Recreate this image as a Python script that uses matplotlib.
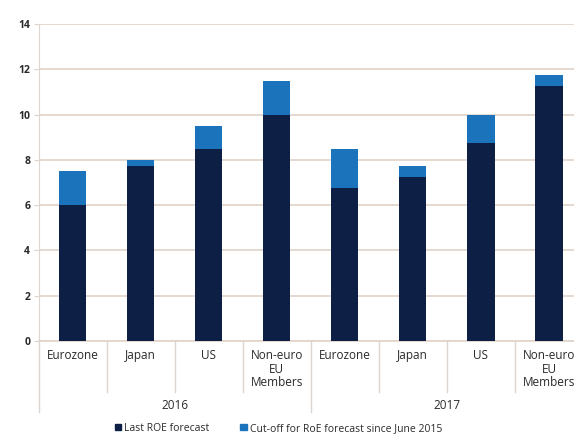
import matplotlib
matplotlib.use("Agg")
import matplotlib.pyplot as plt
import matplotlib.transforms as mtransforms
from matplotlib.patches import Patch

plt.rcParams['font.family'] = ['Open Sans', 'DejaVu Sans']

# =========================================================
# data
# =========================================================
years = ["2016", "2017"]
regions = ["Eurozone", "Japan", "US", "Non-euro\nEU\nMembers"]
last_roe = [6.0, 7.75, 8.5, 10.0, 6.75, 7.25, 8.75, 11.25]
roe_total = [7.5, 8.0, 9.5, 11.5, 8.5, 7.75, 10.0, 11.75]
cut_off = [t - d for t, d in zip(roe_total, last_roe)]
y_ticks = [0, 2, 4, 6, 8, 10, 12, 14]

dark = "#0d1f45"
light = "#1b74bb"
grid_c = "#e0d3ca"
sep_c = "#ddd5cf"
txt_c = "#2a2a2a"

# =========================================================
# figure
# =========================================================
fig = plt.figure(figsize=(5.74, 4.41), dpi=100)
ax = fig.add_axes([38.5 / 574, 100 / 441, 544.5 / 574, 317 / 441])

x = list(range(len(last_roe)))
ax.bar(x, last_roe, width=0.4, color=dark, zorder=3)
ax.bar(x, cut_off, width=0.4, bottom=last_roe, color=light, zorder=3)

ax.set_xlim(-0.5, len(x) - 0.5)
ax.set_ylim(0, 14)
ax.set_yticks(y_ticks)
ax.set_yticklabels([str(v) for v in y_ticks], fontsize=7.5, color=txt_c, fontweight="bold")
ax.yaxis.grid(True, color=grid_c, linewidth=1.2, zorder=0)
ax.tick_params(axis="y", length=3.5, color=grid_c, pad=2.5)
ax.tick_params(axis="x", length=0, pad=6)

for s in ["top", "right"]:
    ax.spines[s].set_visible(False)
ax.spines["left"].set_color(sep_c)
ax.spines["bottom"].set_color(grid_c)
ax.spines["bottom"].set_linewidth(1.2)

ax.set_xticks(x)
ax.set_xticklabels(regions * len(years), fontsize=8.5, color=txt_c,
                   linespacing=1.05, va="top")

# separators of the two-level category axis
trans = mtransforms.blended_transform_factory(ax.transData, ax.transAxes)
n = len(regions)
for i in range(len(x) + 1):
    xb = i - 0.5
    low = -0.224 if i % n == 0 else -0.161
    ax.plot([xb, xb], [0, low], transform=trans, color=sep_c, lw=1.0, clip_on=False)

for j, yr in enumerate(years):
    ax.text(j * n + (n - 1) / 2, -0.205, yr, transform=trans, ha="center",
            va="center", fontsize=8.5, color=txt_c)

handles = [Patch(color=dark, label="Last ROE forecast"),
           Patch(color=light, label="Cut-off for RoE forecast since June 2015")]
fig.legend(handles=handles, loc="lower center", bbox_to_anchor=(0.485, -0.005),
           ncol=2, frameon=False, fontsize=7.5, handlelength=0.6, handleheight=0.6,
           handletextpad=0.3, columnspacing=3.0, labelcolor=txt_c)

fig.savefig("out.png", dpi=100)
